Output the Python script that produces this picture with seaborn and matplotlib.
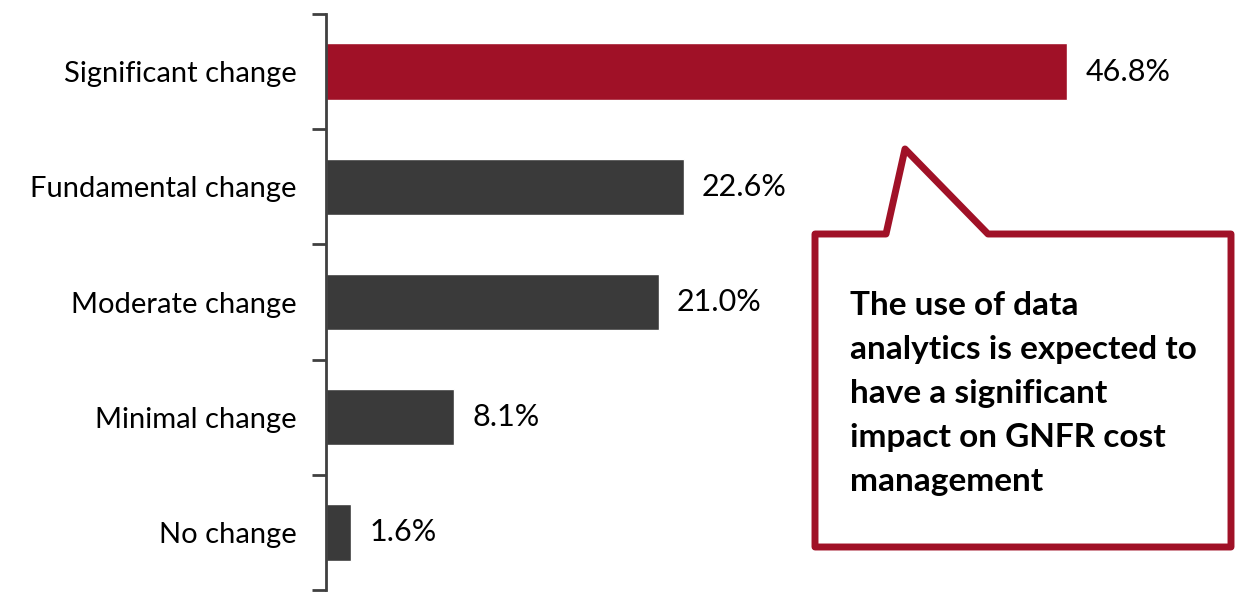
import matplotlib
matplotlib.use("Agg")
import matplotlib.pyplot as plt
import seaborn as sns
import pandas as pd
from matplotlib.patches import Polygon

categories = ["Significant change", "Fundamental change", "Moderate change", "Minimal change", "No change"]
values = [46.8, 22.6, 21.0, 8.1, 1.6]
value_labels = ["46.8%", "22.6%", "21.0%", "8.1%", "1.6%"]
callout_text = "The use of data\nanalytics is expected to\nhave a significant\nimpact on GNFR cost\nmanagement"

RED = "#A01127"
GRAY = "#3A3A3A"

sns.set_theme(style="white")
plt.rcParams['font.family'] = ['Lato', 'DejaVu Sans']

W, H = 1248, 607
fig = plt.figure(figsize=(W / 100, H / 100), dpi=100)
ax = fig.add_axes([326 / W, 1 - 590 / H, 903 / W, 576 / H])

df = pd.DataFrame({"cat": categories, "val": values})
palette = {c: (RED if i == 0 else GRAY) for i, c in enumerate(categories)}
sns.barplot(data=df, x="val", y="cat", hue="cat", palette=palette, order=categories,
            width=0.49, saturation=1, legend=False, ax=ax)

ax.set_xlim(0, 57)
ax.set_ylim(len(categories) - 0.5, -0.5)
ax.set_xlabel("")
ax.set_ylabel("")
ax.set_xticks([])
for s in ["top", "right", "bottom"]:
    ax.spines[s].set_visible(False)
ax.spines["left"].set_color("#404040")
ax.spines["left"].set_linewidth(2)

ax.set_yticks(range(len(categories)))
ax.set_yticklabels(categories, fontsize=21, color="black")
ax.tick_params(axis="y", which="major", length=0, pad=21)
ax.set_yticks([i - 0.5 for i in range(len(categories) + 1)], minor=True)
ax.tick_params(axis="y", which="minor", length=10, width=2, color="#404040", left=True)

for i, (v, lab) in enumerate(zip(values, value_labels)):
    ax.annotate(lab, xy=(v, i), xytext=(13, 0), textcoords="offset points",
                va="center", ha="left", fontsize=22, color="black")

def fp(x, y):
    return (x / W, 1 - y / H)

pts = [fp(815, 234), fp(886, 234), fp(905, 149), fp(988, 234), fp(1231, 234),
       fp(1231, 547), fp(815, 547)]
poly = Polygon(pts, closed=True, transform=fig.transFigure, facecolor="white",
               edgecolor=RED, linewidth=5, joinstyle="round")
fig.patches.append(poly)

fig.text(850 / W, 1 - 291 / H, callout_text, transform=fig.transFigure,
         ha="left", va="top", fontsize=24, fontweight="bold", color="black",
         linespacing=1.63)

fig.savefig("out.png", dpi=100)
